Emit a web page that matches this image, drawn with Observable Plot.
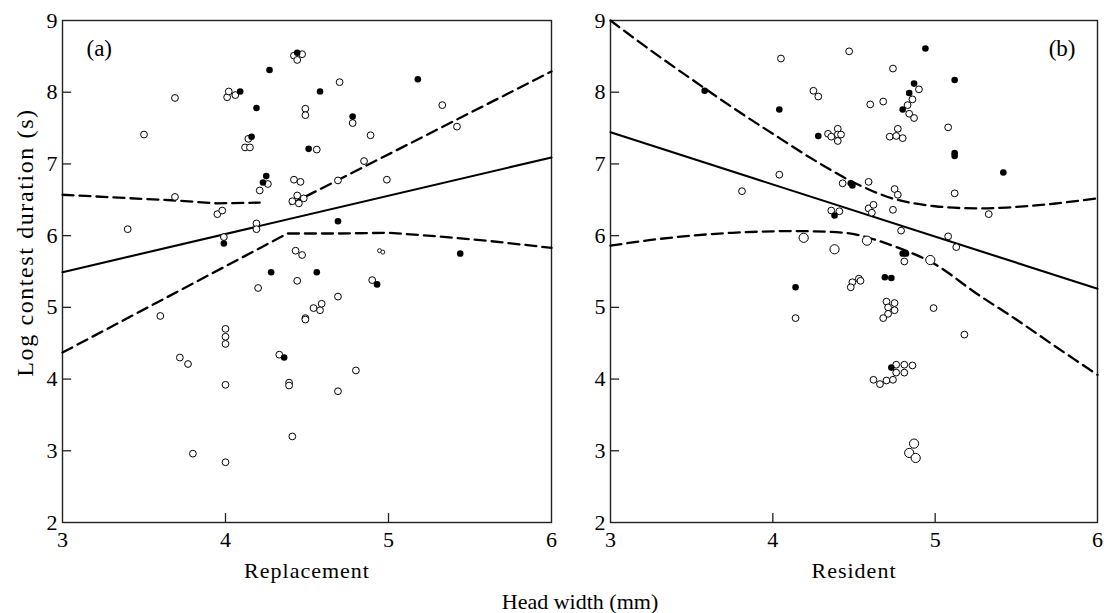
<!DOCTYPE html>
<html><head><meta charset="utf-8">
<script src="https://cdn.jsdelivr.net/npm/d3@7"></script>
<script src="https://cdn.jsdelivr.net/npm/@observablehq/plot@0.6"></script>
<style>
body{margin:0;background:#fff;}
#wrap{position:relative;width:1104px;height:613px;overflow:hidden;}
#row{display:flex;}
#row svg text{font-family:"Liberation Serif",serif;}
#caption{position:absolute;left:0;width:1160px;top:591px;text-align:center;font-family:"Liberation Serif",serif;font-size:22px;line-height:22px;color:#000;}
</style></head><body>
<div id="wrap"><div id="row"></div><div id="caption">Head width (mm)</div></div>
<script>
const xTicks = [3, 4, 5, 6];
const yTicks = [2, 3, 4, 5, 6, 7, 8, 9];
const yLabel = "Log contest duration (s)";
const xLabelA = "Replacement";
const xLabelB = "Resident";

// Panel (a): replacement head width
const openA = [[3.69,7.92],[3.50,7.41],[3.40,6.09],[3.69,6.54],[3.95,6.30],[3.98,6.35],[4.19,6.17],[4.19,6.09],[3.99,5.98],
  [4.01,7.93],[4.02,8.01],[4.06,7.96],[4.14,7.35],[4.12,7.23],[4.15,7.23],[4.26,6.72],[4.21,6.63],[4.42,8.51],[4.47,8.53],
  [4.44,8.45],[4.49,7.77],[4.49,7.68],[4.42,6.78],[4.46,6.75],[4.41,6.48],[4.44,6.56],[4.45,6.45],[4.48,6.52],[4.43,5.79],
  [4.47,5.73],[4.70,8.14],[4.78,7.57],[4.89,7.40],[4.56,7.20],[4.85,7.04],[4.99,6.78],[4.69,6.77],[5.33,7.82],[5.42,7.52],
  [4.44,5.37],[4.20,5.27],[4.49,4.85],[4.49,4.83],[3.60,4.88],[4.00,4.70],[4.00,4.59],[4.00,4.49],[3.72,4.30],[3.77,4.21],
  [4.33,4.34],[4.00,3.92],[4.39,3.95],[4.39,3.91],[4.41,3.20],[3.80,2.96],[4.00,2.84],[4.90,5.38],[4.69,5.15],[4.54,4.99],
  [4.58,4.96],[4.59,5.05],[4.80,4.12],[4.69,3.83]];
const tinyA = [[4.945,5.79],[4.965,5.77]];
const filledA = [[3.99,5.89],[4.09,8.01],[4.27,8.31],[4.19,7.78],[4.16,7.38],[4.25,6.83],[4.23,6.74],[4.44,8.55],[4.28,5.49],
  [4.51,7.21],[4.58,8.01],[4.78,7.66],[5.18,8.18],[4.69,6.20],[5.44,5.75],[4.56,5.49],[4.93,5.32],[4.36,4.30]];
const fitA = [[3,5.49],[6,7.09]];
const upperA1 = [[3,6.57],[3.69,6.49],[3.95,6.45],[4.21,6.46]];
const upperA2 = [[4.40,6.44],[6,8.29]];
const lowerA = [[3,4.37],[4.38,6.03],[4.7,6.03],[5.0,6.04],[5.3,5.99],[5.6,5.93],[6.0,5.83]];

// Panel (b): resident head width
const openB = [[4.47,8.57],[4.05,8.47],[4.25,8.02],[4.28,7.94],[4.74,8.33],[4.90,8.04],[4.86,7.90],[4.83,7.82],[4.84,7.70],
  [4.87,7.64],[4.60,7.83],[4.68,7.87],[4.34,7.42],[4.36,7.38],[4.40,7.49],[4.40,7.41],[4.42,7.41],[4.40,7.32],[4.77,7.49],
  [4.72,7.38],[4.76,7.39],[4.80,7.36],[5.08,7.51],[4.04,6.85],[3.81,6.62],[4.43,6.73],[4.59,6.75],[4.75,6.65],[4.77,6.57],
  [5.12,6.59],[4.36,6.35],[4.41,6.34],[4.59,6.38],[4.62,6.43],[4.61,6.32],[4.74,6.36],[5.33,6.30],[4.79,6.07],[5.08,5.99],
  [5.13,5.84],[4.81,5.64],[4.53,5.40],[4.49,5.35],[4.54,5.37],[4.48,5.28],[4.14,4.85],[4.70,5.08],[4.75,5.06],[4.71,5.00],
  [4.75,4.96],[4.71,4.91],[4.68,4.85],[4.99,4.99],[5.18,4.62],[4.76,4.20],[4.81,4.20],[4.86,4.19],[4.76,4.09],[4.81,4.09],
  [4.62,3.99],[4.66,3.93],[4.70,3.98],[4.74,3.99]];
const largeB = [[4.19,5.97],[4.38,5.81],[4.58,5.93],[4.97,5.66],[4.87,3.10],[4.84,2.97],[4.88,2.90]];
const filledB = [[3.58,8.02],[4.04,7.76],[4.28,7.39],[4.94,8.61],[4.87,8.12],[4.84,7.99],[4.80,7.76],[5.12,8.17],[5.12,7.15],
  [5.12,7.11],[5.42,6.88],[4.48,6.73],[4.49,6.70],[4.38,6.28],[4.80,5.75],[4.82,5.75],[4.69,5.42],[4.73,5.41],[4.14,5.28],[4.73,4.16]];
const fitB = [[3,7.44],[6,5.26]];
const upperB = [[3,9.00],[3.25,8.58],[3.5,8.18],[3.75,7.79],[4,7.42],[4.25,7.06],[4.5,6.74],[4.75,6.51],[5,6.41],[5.25,6.38],[5.5,6.40],[5.75,6.45],[6,6.52]];
const lowerB = [[3,5.86],[3.25,5.94],[3.5,6.00],[3.75,6.04],[4,6.06],[4.25,6.06],[4.5,6.02],[4.75,5.85],[5,5.60],[5.25,5.20],[5.5,4.83],[5.75,4.44],[6,4.06]];

const X = d => d[0], Y = d => d[1];
const FONT = "Liberation Serif";
const dash = {x: X, y: Y, stroke: "#000", strokeWidth: 2.3, strokeDasharray: "11,6"};

function panel({open, filled, large = [], tiny = [], fit, dashed, curve, tag, tagRight, xLabel, withYLabel, width, marginLeft, marginRight}) {
  const marks = [
    Plot.frame({stroke: "#222", strokeWidth: 1.4}),
    Plot.ruleY(yTicks.slice(1, -1), {y: d => d, x1: xTicks[0], x2: xTicks[0] + 0.056, stroke: "#222", strokeWidth: 1.3}),
    Plot.ruleX(xTicks.slice(1, -1), {x: d => d, y1: yTicks[0], y2: yTicks[0] + 0.125, stroke: "#222", strokeWidth: 1.3}),
    Plot.axisY({ticks: yTicks, tickSize: 0, tickPadding: 5, label: null, fontSize: 22, fontFamily: FONT, tickFormat: d => String(d)}),
    Plot.axisX({ticks: xTicks, tickSize: 0, tickPadding: 9, label: null, fontSize: 22, fontFamily: FONT, tickFormat: d => String(d)}),
    Plot.text([xLabel], {frameAnchor: "bottom", dy: 40, lineAnchor: "top", fontSize: 22, fontFamily: FONT}),
    Plot.line(fit, {x: X, y: Y, stroke: "#000", strokeWidth: 2.1}),
    ...dashed.map(seg => Plot.line(seg, {...dash, curve})),
    Plot.dot(open, {x: X, y: Y, r: 3.4, fill: "#fff", stroke: "#000", strokeWidth: 1}),
    Plot.dot(large, {x: X, y: Y, r: 4.6, fill: "#fff", stroke: "#000", strokeWidth: 1}),
    Plot.dot(tiny, {x: X, y: Y, r: 2, fill: "#fff", stroke: "#000", strokeWidth: 0.9}),
    Plot.dot(filled, {x: X, y: Y, r: 3.3, fill: "#000", stroke: "none"}),
    tagRight
      ? Plot.text([tag], {frameAnchor: "top-right", dx: -22, dy: 28, textAnchor: "end", lineAnchor: "middle", fontSize: 23, fontFamily: FONT})
      : Plot.text([tag], {frameAnchor: "top-left", dx: 24, dy: 28, textAnchor: "start", lineAnchor: "middle", fontSize: 23, fontFamily: FONT})
  ];
  if (withYLabel) marks.push(Plot.text([yLabel], {frameAnchor: "left", rotate: -90, dx: -37, dy: -29, fontSize: 24, fontFamily: FONT, textAnchor: "middle", lineAnchor: "middle"}));
  const svg = Plot.plot({
    width, height: 585, marginLeft, marginRight, marginTop: 20, marginBottom: 63,
    x: {domain: [xTicks[0], xTicks[xTicks.length - 1]]},
    y: {domain: [yTicks[0], yTicks[yTicks.length - 1]]},
    style: "font-family: 'Liberation Serif', serif; font-size: 22px; color: #000; background: #fff; overflow: visible;",
    marks
  });
  svg.querySelectorAll("text").forEach(t => {
    if (t.textContent === yLabel) t.style.letterSpacing = "1.6px";
    if (t.textContent === xLabel) t.style.letterSpacing = "1px";
  });
  return svg;
}

const row = document.getElementById("row");
row.append(panel({open: openA, filled: filledA, tiny: tinyA, fit: fitA, dashed: [upperA1, upperA2, lowerA], curve: "linear",
  tag: "(a)", tagRight: false, xLabel: xLabelA, withYLabel: true, width: 560, marginLeft: 62, marginRight: 9}));
row.append(panel({open: openB, filled: filledB, large: largeB, fit: fitB, dashed: [upperB, lowerB], curve: "catmull-rom",
  tag: "(b)", tagRight: true, xLabel: xLabelB, withYLabel: false, width: 544, marginLeft: 50, marginRight: 7}));
</script>
</body></html>
